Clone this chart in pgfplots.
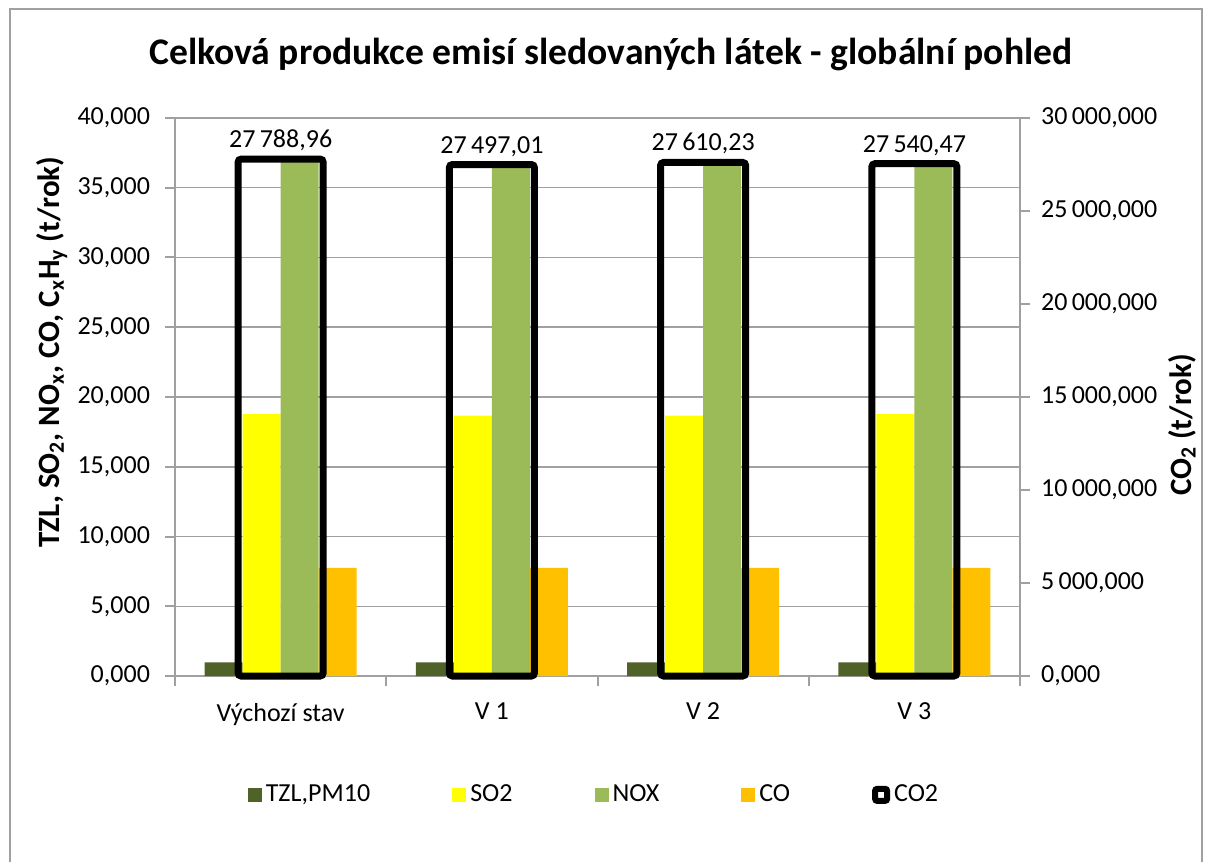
\documentclass[border=0pt]{standalone}
\usepackage{fontspec}
\setmainfont{Carlito}
\usepackage{pgfplots}
\pgfplotsset{compat=1.18}
\definecolor{tzl}{HTML}{4F6228}
\definecolor{so2}{HTML}{FFFF00}
\definecolor{nox}{HTML}{9BBB59}
\definecolor{co}{HTML}{FFC000}
\definecolor{gridc}{HTML}{A0A0A0}
\newcommand{\fs}{\fontsize{13}{15}\selectfont}
\newcommand{\fl}{\fontsize{15.5}{18}\selectfont}
\pgfplotsset{
  mybar/.style={ybar, draw=none, bar width=19pt,
    legend image code/.code={\fill[##1] (0pt,-3.5pt) rectangle (7pt,3.5pt);}},
}
\begin{document}
\begin{tikzpicture}
\useasboundingbox (0pt,0pt) rectangle (604pt,431pt);
\draw[gridc, line width=0.75pt] (5pt,0pt) -- (5pt,426.5pt) -- (601pt,426.5pt) -- (601pt,0pt);
\node[font=\bfseries\fontsize{18.8}{22}\selectfont] at (305.5pt,403.5pt) {Celková produkce emisí sledovaných látek - globální pohled};
\node[font=\bfseries\fl, rotate=90] at (26pt,255pt) {TZL, SO\textsubscript{2}, NO\textsubscript{x}, CO, C\textsubscript{x}H\textsubscript{y} (t/rok)};
\node[font=\bfseries\fl, rotate=90] at (591pt,218.5pt) {CO\textsubscript{2} (t/rok)};
\begin{axis}[
  at={(87.5pt,93pt)}, anchor=south west,
  scale only axis, width=422.5pt, height=279pt,
  xmin=-0.5, xmax=3.5, ymin=0, ymax=40,
  axis x line*=bottom, axis y line*=left,
  axis line style={gridc, line width=1pt, -},
  tick align=outside,
  major tick length=5pt, minor tick length=5pt,
  tick style={gridc, line width=1pt},
  ytick={0,5,10,15,20,25,30,35,40},
  yticklabels={{0,000},{5,000},{10,000},{15,000},{20,000},{25,000},{30,000},{35,000},{40,000}},
  xtick={0,1,2,3},
  xticklabels={Výchozí stav, V 1, V 2, V 3},
  major x tick style={draw=none},
  minor xtick={-0.5,0.5,1.5,2.5,3.5},
  ymajorgrids, grid style={gridc, line width=0.75pt},
  tick label style={font=\fs},
  xticklabel style={yshift=-5pt},
  yticklabel style={xshift=-4pt},
  clip=false,
  legend style={at={(0.497,-0.213)}, anchor=center, draw=none, fill=none,
    legend columns=5, font=\fs,
    /tikz/every even column/.append style={column sep=39pt}},
]
\addplot[mybar, fill=tzl, bar shift=-28.5pt] coordinates {(0,0.98) (1,0.98) (2,0.98) (3,0.98)};
\addplot[mybar, fill=so2, bar shift=-9.5pt] coordinates {(0,18.78) (1,18.66) (2,18.66) (3,18.78)};
\addplot[mybar, fill=nox, bar shift=9.5pt] coordinates {(0,37.05) (1,36.66) (2,36.81) (3,36.72)};
\addplot[mybar, fill=co, bar shift=28.5pt] coordinates {(0,7.76) (1,7.76) (2,7.76) (3,7.76)};
\addlegendimage{legend image code/.code={\draw[line width=3pt, rounded corners=1pt, fill=white] (1.5pt,-3pt) rectangle (7.5pt,3pt);}}
\legend{{TZL,PM10},SO2,NOX,CO,CO2}
\end{axis}
\begin{axis}[
  at={(87.5pt,93pt)}, anchor=south west,
  scale only axis, width=422.5pt, height=279pt,
  xmin=-0.5, xmax=3.5, ymin=0, ymax=30000,
  axis x line=none, axis y line*=right,
  axis line style={gridc, line width=1pt, -},
  tick align=outside, major tick length=5pt,
  tick style={gridc, line width=1pt},
  scaled y ticks=false,
  ytick={0,5000,10000,15000,20000,25000,30000},
  yticklabels={{0,000},{5\,000,000},{10\,000,000},{15\,000,000},{20\,000,000},{25\,000,000},{30\,000,000}},
  tick label style={font=\fs},
  yticklabel style={xshift=2pt},
  clip=false,
]
\addplot[ybar, bar width=42.5pt, bar shift=0pt, draw=black, line width=3.5pt, fill=none, rounded corners=1.5pt,
  nodes near coords, point meta=y,
  nodes near coords style={font=\fs, black, yshift=-1pt,
    /pgf/number format/.cd, fixed, precision=2, fixed zerofill, use comma, 1000 sep={\,}, assume math mode=true}]
  coordinates {(0,27788.96) (1,27497.01) (2,27610.23) (3,27540.47)};
\end{axis}
\end{tikzpicture}
\end{document}
